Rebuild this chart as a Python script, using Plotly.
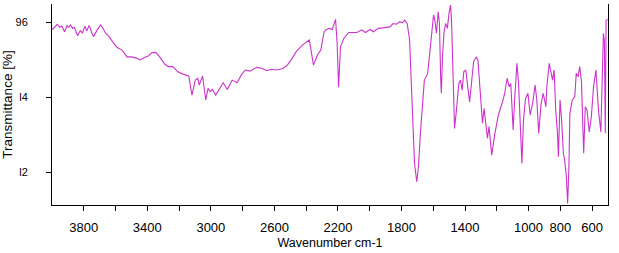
import plotly.graph_objects as go

# Wavenumber (cm-1) and transmittance (%)
wavenumber = [
    3998, 3967, 3952, 3938, 3921, 3905, 3894, 3884, 3870, 3859, 3839, 3822, 3808, 3793, 3781,
    3766, 3752, 3739, 3715, 3694, 3679, 3663, 3648, 3632, 3611, 3590, 3559, 3528, 3497, 3466,
    3446, 3415, 3394, 3373, 3347, 3322, 3291, 3270, 3239, 3208,
    3177, 3139, 3119, 3098, 3083, 3073, 3052, 3032, 3018, 3005, 2990, 2970, 2949, 2922, 2897,
    2866, 2835, 2808, 2784, 2753, 2711, 2676, 2649, 2618, 2587, 2546, 2519, 2494, 2463, 2422,
    2380, 2354, 2329, 2308, 2287,
    2277, 2256, 2236, 2215, 2205, 2196, 2184, 2163, 2132, 2081, 2050, 2028, 1997, 1977, 1946,
    1904, 1873, 1853, 1832, 1811, 1795, 1780, 1764, 1749, 1739, 1729, 1718, 1704, 1693, 1681,
    1666, 1656, 1635, 1621, 1609, 1598, 1590, 1580, 1569, 1561, 1553, 1549, 1542, 1532, 1522,
    1511, 1501, 1491, 1485, 1474, 1466, 1454, 1439, 1429, 1418, 1408, 1395, 1383, 1371,
    1346, 1330, 1319, 1308, 1300, 1290, 1280, 1269, 1259, 1249, 1232, 1212, 1190, 1164, 1150,
    1135, 1122, 1112, 1097, 1088, 1073, 1063, 1050, 1042, 1032, 1019, 1004, 990, 973, 959,
    948, 936, 922, 908, 891,
    885, 870, 860, 849, 839, 829, 818, 812, 802, 792, 781, 773, 762, 754, 746, 740, 725, 709,
    700, 688, 678, 667, 653, 643, 632, 618, 605, 591, 576, 560, 545, 529, 523, 517, 512, 502,
]
transmittance = [
    95.81, 95.95, 95.87, 95.90, 95.75, 95.91, 95.87, 95.93, 95.84, 95.87, 95.64, 95.78, 95.72, 95.90, 95.77,
    95.92, 95.75, 95.62, 95.80, 95.93, 95.84, 95.71, 95.66, 95.55, 95.44, 95.33, 95.26, 95.08, 95.08, 95.04,
    95.00, 95.07, 95.10, 95.19, 95.20, 95.08, 94.89, 94.82, 94.82, 94.68,
    94.62, 94.57, 94.06, 94.46, 94.51, 94.33, 94.57, 93.93, 94.24, 94.15, 94.21, 94.06, 94.19, 94.39, 94.21,
    94.46, 94.39, 94.60, 94.73, 94.70, 94.80, 94.77, 94.71, 94.75, 94.73, 94.77, 94.86, 95.00, 95.22, 95.40,
    95.53, 94.86, 95.13, 95.26, 95.75,
    95.80, 95.84, 95.81, 96.08, 95.44, 94.27, 95.35, 95.57, 95.73, 95.73, 95.80, 95.73, 95.81, 95.75, 95.84,
    95.86, 95.88, 95.97, 95.95, 96.02, 95.99, 96.06, 95.97, 95.53, 94.37, 93.22, 92.24, 91.75, 92.15, 93.04,
    93.93, 94.46, 94.64, 95.26, 95.88, 96.20, 96.06, 95.71, 96.28, 95.97, 94.46, 94.11, 95.08, 95.75, 95.97,
    95.84, 96.24, 96.46, 96.06, 94.55, 93.17, 93.66, 94.37, 94.46, 94.19, 94.68, 94.73, 94.28, 93.88,
    94.95, 95.08, 95.00, 94.28, 93.66, 93.31, 93.71, 93.31, 92.91, 93.22, 92.46, 93.04, 93.53, 93.88, 94.11,
    94.51, 94.28, 94.37, 93.13, 93.93, 94.91, 94.37, 93.22, 92.24, 93.40, 93.97, 94.11, 93.53, 93.88, 94.33,
    93.93, 93.04, 93.80, 94.11, 93.75,
    94.28, 94.91, 94.68, 94.46, 94.73, 93.66, 93.04, 92.42, 93.93, 93.40, 92.51, 92.33, 91.88, 91.17, 92.15, 93.57, 93.93, 94.02,
    94.64, 94.55, 94.82, 94.42, 92.51, 93.75, 93.66, 93.08, 93.48, 94.28, 94.73, 93.66, 93.08, 95.71, 95.53, 93.04, 96.06, 96.08,
]

x_tick_values = [3800, 3600, 3400, 3200, 3000, 2800, 2600, 2400, 2200, 2000, 1800, 1600, 1400, 1200, 1000, 800, 600]
x_tick_labels = ["3800", "", "3400", "", "3000", "", "2600", "", "2200", "", "1800", "", "1400", "", "1000", "800", "600"]
y_tick_values = [96, 94, 92]
y_tick_labels = ["96", "l4", "l2"]

FONT = "Liberation Sans, Arial, sans-serif"

fig = go.Figure()
fig.add_trace(go.Scatter(
    x=wavenumber, y=transmittance, mode="lines",
    line=dict(color="#CC33CC", width=1.1),
    hoverinfo="x+y",
))

fig.update_layout(
    width=619, height=253,
    margin=dict(l=44, r=11, t=4, b=48),
    paper_bgcolor="white", plot_bgcolor="white",
    showlegend=False,
    font=dict(family=FONT, color="black", size=13),
)
fig.update_xaxes(
    range=[4000, 500],
    tickmode="array", tickvals=x_tick_values, ticktext=x_tick_labels,
    ticks="outside", ticklen=5, tickwidth=1, tickcolor="black",
    showline=True, linecolor="black", linewidth=1, mirror=False,
    showgrid=False, zeroline=False,
    tickfont=dict(family=FONT, size=13, color="black"),
    ticklabelstandoff=5,
    title=dict(text="Wavenumber cm-1", font=dict(family=FONT, size=12.5, color="black"), standoff=4),
)
fig.update_yaxes(
    range=[91.13, 96.49],
    tickmode="array", tickvals=y_tick_values, ticktext=y_tick_labels,
    ticks="outside", ticklen=5, tickwidth=1, tickcolor="black",
    showline=True, linecolor="black", linewidth=1, mirror=True,
    showgrid=False, zeroline=False,
    tickfont=dict(family=FONT, size=11, color="black"),
    ticklabelstandoff=16,
    title=dict(text="Transmittance [%]", font=dict(family=FONT, size=13.5, color="black"), standoff=2),
)

fig.write_html("out.html")
